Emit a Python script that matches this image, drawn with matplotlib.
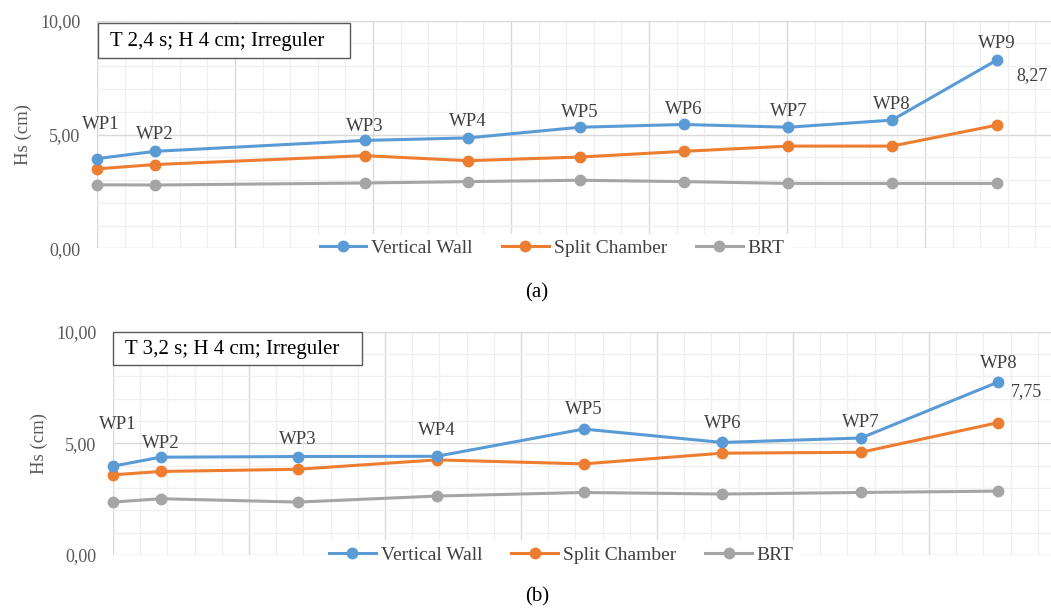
import matplotlib
matplotlib.use("Agg")
import matplotlib.pyplot as plt
from matplotlib.patches import Rectangle
from matplotlib.ticker import MultipleLocator, FuncFormatter

plt.rcParams['font.family'] = ['Liberation Serif', 'DejaVu Serif']

# Panel (a): T 2,4 s
pos_a = [0.0, 0.42, 1.94, 2.69, 3.50, 4.25, 5.01, 5.76, 6.52]
wp_a = ['WP1', 'WP2', 'WP3', 'WP4', 'WP5', 'WP6', 'WP7', 'WP8', 'WP9']
vw_a = [3.94, 4.26, 4.74, 4.85, 5.32, 5.44, 5.32, 5.63, 8.27]
sc_a = [3.49, 3.68, 4.07, 3.85, 4.01, 4.26, 4.49, 4.49, 5.41]
brt_a = [2.79, 2.78, 2.87, 2.93, 2.99, 2.93, 2.85, 2.85, 2.85]

# Panel (b): T 3,2 s
pos_b = [0.0, 0.35, 1.36, 2.38, 3.46, 4.48, 5.50, 6.51]
wp_b = ['WP1', 'WP2', 'WP3', 'WP4', 'WP5', 'WP6', 'WP7', 'WP8']
vw_b = [3.98, 4.38, 4.41, 4.42, 5.64, 5.04, 5.24, 7.75]
sc_b = [3.59, 3.74, 3.84, 4.26, 4.08, 4.56, 4.60, 5.93]
brt_b = [2.37, 2.52, 2.37, 2.64, 2.80, 2.73, 2.80, 2.86]

# label offsets above the points (pixels)
lab_dy_a = [34, 17, 14, 16, 15, 15, 16, 16, 17]
lab_dx_a = [4, 0, 0, 0, 0, 0, 0, 0, 0]
lab_dy_b = [42, 14, 17, 26, 20, 19, 15, 18]
lab_dx_b = [5, 0, 0, 0, 0, 0, 0, 0]

blue = '#5B9BD5'
orange = '#ED7D31'
gray = '#A5A5A5'
W, H = 1051, 610

fig = plt.figure(figsize=(W / 100, H / 100), dpi=100)


def panel(rect, pos, wp, vw, sc, brt, dxs, dys, note, box, caption, cap_y, leg_x, xmax, val_off):
    ax = fig.add_axes(rect)
    ax.set_xlim(0, xmax)
    ax.set_ylim(0, 10)
    ax.xaxis.set_major_locator(MultipleLocator(1))
    ax.xaxis.set_minor_locator(MultipleLocator(0.2))
    ax.yaxis.set_major_locator(MultipleLocator(5))
    ax.yaxis.set_minor_locator(MultipleLocator(1))
    ax.grid(which='major', color='#D9D9D9', lw=1.0)
    ax.grid(which='minor', color='#EFEFEF', lw=0.9)
    ax.set_axisbelow(True)
    for s in ax.spines.values():
        s.set_visible(False)
    ax.tick_params(which='both', length=0)
    ax.tick_params(axis='x', labelbottom=False)
    ax.tick_params(axis='y', labelsize=13, labelcolor='#595959', pad=12)
    ax.yaxis.set_major_formatter(FuncFormatter(lambda v, p: f'{v:.2f}'.replace('.', ',')))
    ax.set_ylabel('Hs (cm)', fontsize=13.5, color='#595959', labelpad=6)

    kw = dict(lw=2.2, marker='o', ms=7.5, clip_on=False)
    ax.plot(pos, brt, color=gray, label='BRT', zorder=3, **kw)
    ax.plot(pos, sc, color=orange, label='Split Chamber', zorder=4, **kw)
    ax.plot(pos, vw, color=blue, label='Vertical Wall', zorder=5, **kw)

    for x, y, t, dx, dy in zip(pos, vw, wp, dxs, dys):
        ax.annotate(t, (x, y), xytext=(dx * 0.72, dy * 0.72), textcoords='offset points',
                    ha='center', va='center', fontsize=13.5, color='#404040', zorder=6)
    ax.annotate(f'{vw[-1]:.2f}'.replace('.', ','), (pos[-1], vw[-1]), xytext=val_off,
                textcoords='offset points', ha='left', va='center', fontsize=13,
                color='#404040', annotation_clip=False)

    x0, x1, y0, y1, tx, ty = box
    ax.add_patch(Rectangle((x0, y0), x1 - x0, y1 - y0, transform=ax.transAxes, fc='white',
                           ec='#595959', lw=1.0, zorder=7, clip_on=False))
    ax.text(tx, ty, note, transform=ax.transAxes, fontsize=15, va='center', ha='left', zorder=8)

    h, l = ax.get_legend_handles_labels()
    leg = ax.legend(h[::-1], l[::-1], loc='center', bbox_to_anchor=(leg_x, 0.0), ncol=3,
                    fontsize=14, frameon=True, fancybox=False, edgecolor='none',
                    facecolor='white', framealpha=1.0, handlelength=2.4,
                    handletextpad=0.25, columnspacing=1.5, borderpad=0.3)
    leg.set_zorder(8)
    for t in leg.get_texts():
        t.set_color('#404040')
    fig.text(0.5 + 0.011, cap_y, caption, ha='center', va='center', fontsize=15)
    return ax


ax_a = panel([97 / W, 1 - 248.3 / H, (W - 97) / W, 227.6 / H], pos_a, wp_a, vw_a, sc_a, brt_a,
             lab_dx_a, lab_dy_a, 'T 2,4 s; H 4 cm; Irreguler',
             (0.001, 0.265, 0.836, 0.99, 0.0136, 0.91), '(a)', 1 - 293 / H, 0.477,
             (W - 97) / 138.0, (14, -11))
ax_b = panel([113 / W, 1 - 555 / H, (W - 113) / W, 223.3 / H], pos_b, wp_b, vw_b, sc_b, brt_b,
             lab_dx_b, lab_dy_b, 'T 3,2 s; H 4 cm; Irreguler',
             (0.0, 0.265, 0.851, 0.998, 0.0128, 0.922), '(b)', 1 - 597 / H, 0.478,
             (W - 113) / 136.0, (9, -7))

fig.savefig('out.png', dpi=100)
